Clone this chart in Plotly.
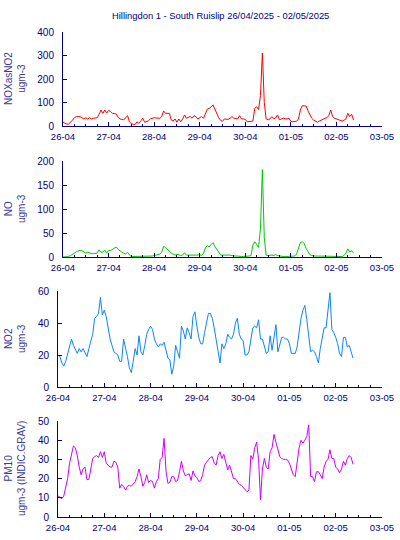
import pandas as pd
import plotly.graph_objects as go

TITLE = "Hillingdon 1 - South Ruislip 26/04/2025 - 02/05/2025"
START = "2025-04-26 00:00"
N_HOURS = 154

# NOx as NO2 (ugm-3), hourly
nox = [16, 12, 8, 8, 15, 25, 35, 40, 40, 40, 35, 30,
       35, 30, 35, 30, 33, 33, 35, 50, 68, 54, 68, 55,
       66, 62, 54, 53, 51, 38, 30, 28, 26, 35, 44, 18,
       10, 7, 7, 18, 11, 22, 33, 16, 18, 22, 30, 33,
       35, 34, 33, 33, 40, 64, 54, 54, 54, 26, 21, 30,
       16, 30, 18, 30, 47, 33, 38, 40, 33, 44, 40, 30,
       35, 40, 33, 54, 72, 75, 80, 90, 70, 54, 35, 24,
       20, 30, 30, 28, 33, 40, 33, 30, 30, 44, 30, 30,
       28, 18, 18, 18, 21, 75, 82, 70, 130, 310, 100, 30,
       26, 30, 40, 30, 35, 47, 26, 30, 33, 31, 30, 33,
       20, 18, 18, 20, 30, 68, 86, 86, 85, 65, 50, 33,
       25, 21, 16, 21, 26, 30, 33, 35, 45, 68, 40, 33,
       30, 28, 24, 21, 25, 30, 54, 40, 50, 26]

# NO (ugm-3), hourly
no = [0, 0, 0, 1, 3, 5, 8, 11, 12, 14, 13, 10,
      8, 10, 8, 7, 7, 7, 8, 15, 10, 10, 14, 8,
      14, 13, 16, 19, 21, 16, 12, 10, 8, 6, 10, 4,
      1, 1, 1, 1, 1, 1, 1, 1, 1, 1, 1, 2,
      3, 4, 5, 6, 10, 22, 20, 15, 12, 8, 6, 4,
      5, 5, 3, 4, 9, 4, 4, 4, 4, 3, 3, 4,
      5, 3, 8, 19, 24, 21, 26, 30, 22, 15, 8, 4,
      4, 4, 4, 5, 4, 3, 2, 2, 2, 1, 1, 1,
      1, 1, 2, 3, 25, 32, 26, 20, 60, 182, 40, 4,
      3, 4, 4, 3, 5, 3, 2, 2, 1, 1, 1, 1,
      1, 1, 2, 6, 18, 30, 32, 28, 18, 10, 5, 3,
      2, 2, 2, 2, 2, 2, 2, 2, 1, 1, 1, 1,
      1, 1, 1, 1, 3, 8, 17, 10, 13, 8]

# NO2 (ugm-3), hourly
no2 = [20, 19, 15, 13, 16, 21, 26, 30, 26, 23, 21, 24,
       22, 24, 21, 19, 24, 28, 33, 43, 44, 46, 56, 45,
       48, 44, 36, 30, 26, 22, 21, 20, 16, 16, 30, 25,
       19, 12, 9, 16, 24, 20, 32, 22, 20, 26, 33, 36,
       38, 36, 30, 27, 25, 27, 26, 28, 22, 18, 17, 8,
       13, 26, 22, 18, 38, 35, 30, 37, 34, 30, 44, 47,
       38, 31, 27, 27, 34, 41, 46, 46, 43, 37, 29, 24,
       15, 27, 24, 27, 33, 31, 30, 33, 40, 43, 33, 30,
       29, 20, 20, 22, 29, 37, 38, 37, 42, 30, 30, 26,
       21, 22, 32, 23, 30, 39, 22, 27, 31, 31, 30, 30,
       27, 21, 21, 21, 25, 34, 43, 48, 51, 42, 31, 22,
       23, 22, 19, 15, 24, 30, 37, 37, 49, 59, 36, 34,
       31, 27, 21, 19, 31, 31, 25, 26, 22, 18]

# PM10 (ugm-3 INDIC.GRAV), hourly
pm10 = [11, 10, 9.5, 11, 15, 20, 28, 32, 37, 36, 32, 26,
        22, 25, 26, 19.5, 19.5, 25, 30.5, 31.4, 32, 31, 34, 31,
        34, 28, 27, 26, 26, 29, 28.5, 26, 15, 17, 16, 14,
        16, 16.5, 16, 17, 18.4, 21, 25, 21, 16, 18, 22, 18,
        19, 18.5, 15, 18.4, 20, 30, 31, 41, 24, 17.5, 18, 21,
        21, 18.5, 19, 23.5, 29, 24, 21.5, 22, 22.5, 19, 24, 21.5,
        20.5, 18.5, 19, 22, 27, 28.5, 29.5, 31, 31.4, 28, 27, 32,
        34, 30.5, 32.6, 29, 24.5, 27, 24, 20, 20, 18.4, 17, 16.5,
        15.5, 14.5, 13.2, 14, 32, 30, 36, 39, 30, 9, 25, 30.5,
        26, 25, 34, 36, 43, 39, 35, 31.4, 30.5, 30, 30, 29.7,
        28, 24.5, 22, 21, 30, 36, 40, 38.4, 40, 42, 48, 21,
        21, 18.4, 23.6, 23.6, 22, 20, 26, 29, 30, 35, 30.5, 30.5,
        26, 25, 23, 25, 29, 27, 30.5, 32, 31, 27.4]

y_titles = ["NOXasNO2<br>ugm-3", "NO<br>ugm-3", "NO2<br>ugm-3", "PM10<br>ugm-3 (INDIC.GRAV)"]
y_ranges = [[0, 400], [0, 200], [0, 60], [0, 50]]
y_dticks = [100, 50, 20, 10]
colors = ["#ff0000", "#00c800", "#0a84ff", "#cc00ff"]
series = [nox, no, no2, pm10]

times = pd.date_range(START, periods=N_HOURS, freq="h")

W, H = 400, 540
NAVY = "#000080"
LABEL = "#3a3a9a"
FONT = "Liberation Sans, Arial, sans-serif"

# screen pixel geometry: (left, right, top, bottom)
boxes = [(63, 382, 32, 126), (63, 382, 161, 257), (58, 382, 291, 387), (58, 382, 421, 517)]


def px(x):
    return x / W


def py(y):
    return 1 - y / H


fig = go.Figure()
layout = dict(
    width=W, height=H,
    margin=dict(l=0, r=0, t=0, b=0, pad=0, autoexpand=False),
    paper_bgcolor="white", plot_bgcolor="white",
    showlegend=False,
    annotations=[],
)

for i, (vals, col) in enumerate(zip(series, colors)):
    k = "" if i == 0 else str(i + 1)
    fig.add_trace(go.Scatter(x=times, y=vals, mode="lines",
                             line=dict(color=col, width=1),
                             xaxis="x" + k, yaxis="y" + k, hoverinfo="skip"))
    l, r, t, b = boxes[i]
    layout["xaxis" + k] = dict(
        domain=[px(l), px(r)], anchor="y" + k, type="date", automargin=False,
        range=["2025-04-26 00:00", "2025-05-03 00:00"],
        tick0="2025-04-26", dtick=86400000, tickformat="%d-%m",
        ticks="inside", ticklen=4, tickwidth=1, tickcolor=NAVY,
        showline=True, linecolor=NAVY, linewidth=1,
        showgrid=False, zeroline=False,
        tickfont=dict(family=FONT, size=9.5, color=NAVY),
        ticklabelstandoff=2,
        minor=dict(ticks="inside", ticklen=2, dtick=6 * 3600000,
                   tickcolor=NAVY, tickwidth=1, showgrid=False),
    )
    layout["yaxis" + k] = dict(
        domain=[py(b), py(t)], anchor="x" + k, automargin=False,
        range=y_ranges[i], dtick=y_dticks[i], tick0=0,
        ticks="inside", ticklen=4, tickwidth=1, tickcolor=NAVY,
        showline=True, linecolor=NAVY, linewidth=1,
        showgrid=False, zeroline=False,
        tickfont=dict(family=FONT, size=10, color=NAVY),
        ticklabelstandoff=6,
    )
    layout["annotations"].append(dict(
        text=y_titles[i], xref="paper", yref="paper",
        x=px(15), y=py((t + b) / 2), xanchor="center", yanchor="middle",
        textangle=-90, showarrow=False,
        font=dict(family=FONT, size=10, color=LABEL),
    ))

layout["annotations"].append(dict(
    text=TITLE, xref="paper", yref="paper", x=px(220), y=py(15),
    xanchor="center", yanchor="middle", showarrow=False,
    font=dict(family=FONT, size=9.4, color=NAVY),
))

fig.update_layout(**layout)
fig.write_html(
    "out.html",
    config={"displayModeBar": False},
    post_script="document.body.style.margin='0';document.body.style.overflow='hidden';",
)
